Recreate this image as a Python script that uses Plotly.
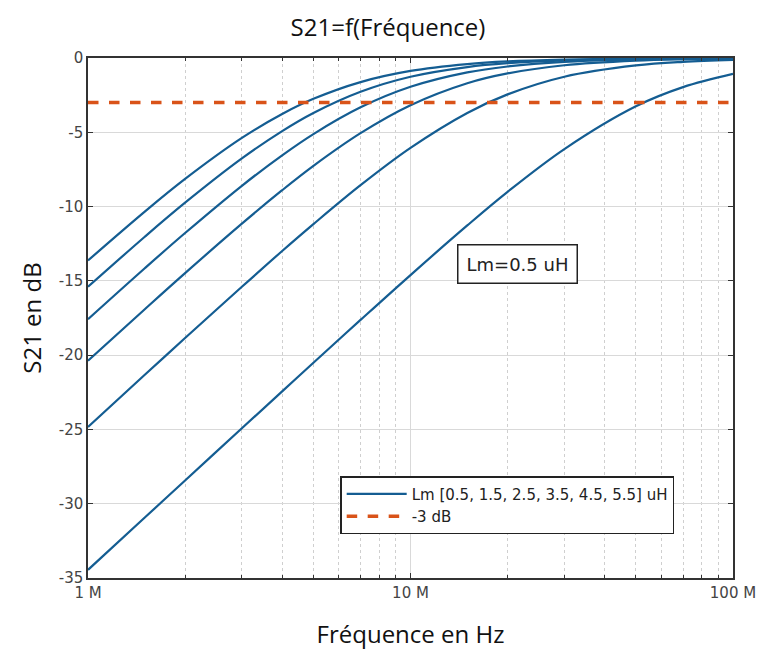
import plotly.graph_objects as go

# Frequencies in MHz
freq_mhz = [1, 1.5, 2, 3, 4, 5, 7, 10, 15, 20, 30, 50, 70, 100]

# S21 (dB), one list per Lm value
s21_lm05 = [-13.63, -10.34, -8.14, -5.38, -3.77, -2.75, -1.62, -0.87, -0.41, -0.23, -0.11, -0.04, -0.02, -0.01]
s21_lm15 = [-15.40, -12.03, -9.74, -6.76, -4.92, -3.70, -2.27, -1.26, -0.61, -0.35, -0.16, -0.06, -0.03, -0.01]
s21_lm25 = [-17.58, -14.15, -11.78, -8.60, -6.55, -5.12, -3.32, -1.94, -0.97, -0.57, -0.26, -0.10, -0.05, -0.02]
s21_lm35 = [-20.38, -16.91, -14.48, -11.15, -8.90, -7.26, -5.06, -3.18, -1.70, -1.04, -0.49, -0.18, -0.09, -0.05]
s21_lm45 = [-24.83, -21.32, -18.85, -15.40, -12.99, -11.18, -8.56, -6.05, -3.70, -2.45, -1.26, -0.50, -0.26, -0.13]
s21_lm55 = [-34.45, -30.93, -28.44, -24.92, -22.44, -20.51, -17.63, -14.61, -11.27, -9.01, -6.13, -3.25, -1.96, -1.07]
series = [s21_lm05, s21_lm15, s21_lm25, s21_lm35, s21_lm45, s21_lm55]

ref_x_mhz = [1, 100]
ref_y = [-3, -3]

x_tickvals = [1e6, 1e7, 1e8]
x_ticktext = ["1 M", "10 M", "100 M"]
x_minor = [m * 10 ** e for e in (6, 7) for m in range(2, 10)]
y_tickvals = [0, -5, -10, -15, -20, -25, -30, -35]
y_ticktext = ["0", "-5", "-10", "-15", "-20", "-25", "-30", "-35"]

freq_hz = [f * 1e6 for f in freq_mhz]

fig = go.Figure()
blue = "#145d92"
for i, s in enumerate(series):
    fig.add_trace(go.Scatter(
        x=freq_hz, y=s, mode="lines", line=dict(color=blue, width=2.2, shape="spline"),
        name="Lm [0.5, 1.5, 2.5, 3.5, 4.5, 5.5] uH", legendgroup="lm",
        showlegend=(i == 0)))

fig.add_trace(go.Scatter(
    x=[f * 1e6 for f in ref_x_mhz], y=ref_y, mode="lines",
    line=dict(color="#D95319", width=3.5, dash="dash"), name="-3 dB"))

fig.add_annotation(
    x=0.666, y=0.603, xref="paper", yref="paper", text="Lm=0.5 uH", showarrow=False,
    font=dict(family="DejaVu Sans", size=18, color="#222"),
    bordercolor="#222", borderwidth=1.5, borderpad=8, bgcolor="white")

axis_font = dict(family="DejaVu Sans", size=15, color="#444")
title_font = dict(family="Open Sans, Noto Sans", size=24, color="#111")
fig.update_layout(
    width=760, height=650,
    margin=dict(l=80, r=30, t=50, b=80),
    paper_bgcolor="white", plot_bgcolor="white",
    title=dict(text="S21=f(Fréquence)", x=0.5, xanchor="center", y=0.97, yanchor="middle",
               font=title_font),
    legend=dict(x=0.391, y=0.196, xanchor="left", yanchor="top",
                bordercolor="#222", borderwidth=1.5, bgcolor="white",
                font=dict(family="DejaVu Sans", size=15, color="#222"),
                tracegroupgap=0, itemwidth=60),
    xaxis=dict(type="log", range=[6, 8], tickvals=x_tickvals, ticktext=x_ticktext,
               showgrid=True, gridcolor="#d9d9d9", gridwidth=1,
               ticks="inside", ticklen=5, tickcolor="#333",
               showline=True, linecolor="#333", linewidth=1.5, mirror="allticks",
               tickfont=axis_font, zeroline=False,
               minor=dict(tickmode="array", tickvals=x_minor, showgrid=True,
                          gridcolor="#cfcfcf", griddash="dot", gridwidth=1,
                          ticks="inside", ticklen=3, tickcolor="#333"),
               title=dict(text="Fréquence en Hz", standoff=25, font=title_font)),
    yaxis=dict(range=[-35, 0], tickvals=y_tickvals, ticktext=y_ticktext,
               showgrid=True, gridcolor="#d9d9d9", gridwidth=1,
               ticks="inside", ticklen=5, tickcolor="#333",
               showline=True, linecolor="#333", linewidth=1.5, mirror="allticks",
               tickfont=axis_font, zeroline=False,
               title=dict(text="S21 en dB", standoff=10, font=title_font)),
)

fig.write_html("out.html")
